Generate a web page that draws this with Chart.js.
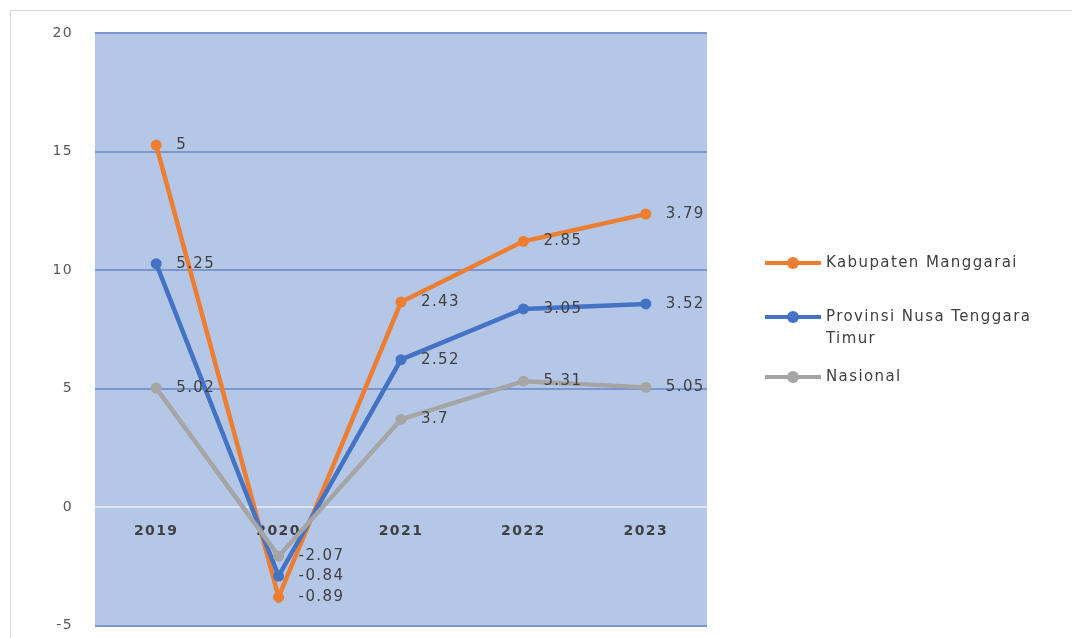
<!DOCTYPE html>
<html lang="id">
<head>
  <meta charset="UTF-8">
  <title>Pertumbuhan Ekonomi</title>
  <style>
    html, body {
      margin: 0;
      padding: 0;
      background: #ffffff;
      overflow: hidden;
      font-family: 'DejaVu Sans', sans-serif;
    }
    .frame {
      position: absolute;
      left: 10px;
      top: 10px;
      width: 1100px;
      height: 700px;
      border: 1px solid #d9d9d9;
    }
    #wrap {
      position: absolute;
      left: 0;
      top: 0;
      width: 1072px;
      height: 656px;
    }
    .legend {
      position: absolute;
      left: 765px;
      top: 0;
      color: #404040;
      font-size: 15px;
      letter-spacing: 1.4px;
    }
    .legend .item {
      position: absolute;
      left: 0;
      white-space: nowrap;
    }
    .legend .swatch {
      position: absolute;
      left: 0;
      width: 56px;
      height: 4px;
    }
    .legend .swatch span {
      position: absolute;
      left: 22px;
      top: -4px;
      width: 12px;
      height: 12px;
      border-radius: 50%;
    }
    .legend .txt {
      position: absolute;
      left: 61px;
      line-height: 22px;
    }
  </style>
  <script src="https://cdn.jsdelivr.net/npm/chart.js"></script>
</head>
<body>
  <div class="frame"></div>
  <div id="wrap">
    <canvas id="growthChart" width="1072" height="656"></canvas>
  </div>
  <div class="legend">
    <div class="item" style="top:251px">
      <div class="swatch" style="top:10px;background:#ed7d31"><span style="background:#ed7d31"></span></div>
      <div class="txt">Kabupaten Manggarai</div>
    </div>
    <div class="item" style="top:305px">
      <div class="swatch" style="top:10px;background:#4472c4"><span style="background:#4472c4"></span></div>
      <div class="txt">Provinsi Nusa Tenggara<br>Timur</div>
    </div>
    <div class="item" style="top:365px">
      <div class="swatch" style="top:10px;background:#a5a5a5"><span style="background:#a5a5a5"></span></div>
      <div class="txt">Nasional</div>
    </div>
  </div>

  <script>
    // data (nilai per seri, ditumpuk oleh Chart.js)
    const years = ['2019', '2020', '2021', '2022', '2023'];
    const kabupatenManggarai = [5, -0.89, 2.43, 2.85, 3.79];
    const provinsiNTT = [5.25, -0.84, 2.52, 3.05, 3.52];
    const nasional = [5.02, -2.07, 3.7, 5.31, 5.05];
    const yMin = -5;
    const yMax = 20;
    const yStep = 5;

    // latar area plot
    const plotBg = {
      id: 'plotBg',
      beforeDraw(chart) {
        const { ctx, chartArea: a } = chart;
        ctx.save();
        ctx.fillStyle = '#b4c7e7';
        ctx.fillRect(a.left, a.top, a.right - a.left, a.bottom - a.top);
        ctx.restore();
        ctx.letterSpacing = '1.4px';
      }
    };

    // label nilai di kanan setiap titik
    const pointLabels = {
      id: 'pointLabels',
      afterDatasetsDraw(chart) {
        const ctx = chart.ctx;
        ctx.save();
        ctx.font = '15px "DejaVu Sans"';
        ctx.fillStyle = '#404040';
        ctx.textAlign = 'left';
        ctx.textBaseline = 'middle';
        chart.data.datasets.forEach((ds, i) => {
          const meta = chart.getDatasetMeta(i);
          meta.data.forEach((pt, j) => {
            ctx.fillText(String(ds.data[j]), pt.x + 20, pt.y);
          });
        });
        ctx.restore();
      }
    };

    const ctx = document.getElementById('growthChart').getContext('2d');
    new Chart(ctx, {
      type: 'line',
      data: {
        labels: years,
        datasets: [
          {
            label: 'Nasional',
            data: nasional,
            borderColor: '#a5a5a5',
            backgroundColor: '#a5a5a5',
            order: 0
          },
          {
            label: 'Provinsi Nusa Tenggara Timur',
            data: provinsiNTT,
            borderColor: '#4472c4',
            backgroundColor: '#4472c4',
            order: 1
          },
          {
            label: 'Kabupaten Manggarai',
            data: kabupatenManggarai,
            borderColor: '#ed7d31',
            backgroundColor: '#ed7d31',
            order: 2
          }
        ]
      },
      options: {
        responsive: false,
        animation: false,
        layout: { padding: { left: 0, right: 365, top: 33, bottom: 0 } },
        elements: {
          line: { borderWidth: 4.5, tension: 0, fill: false },
          point: { radius: 5.5, borderWidth: 0, hoverRadius: 5.5 }
        },
        plugins: {
          legend: { display: false },
          tooltip: { enabled: false }
        },
        scales: {
          x: {
            position: { y: 0 },
            offset: true,
            grid: { display: false, drawTicks: false },
            border: { display: false },
            ticks: {
              color: '#404040',
              padding: 16,
              font: { family: 'DejaVu Sans', size: 14, weight: 'bold' }
            }
          },
          y: {
            stacked: true,
            min: yMin,
            max: yMax,
            afterFit(scale) { scale.width = 95; },
            grid: {
              drawTicks: false,
              lineWidth: 2,
              color: c => (c.tick && c.tick.value === 0) ? '#dce4f2' : '#7a96cc'
            },
            border: { display: false },
            ticks: {
              stepSize: yStep,
              color: '#595959',
              padding: 22,
              font: { family: 'DejaVu Sans', size: 14 }
            }
          }
        }
      },
      plugins: [plotBg, pointLabels]
    });
  </script>
</body>
</html>
